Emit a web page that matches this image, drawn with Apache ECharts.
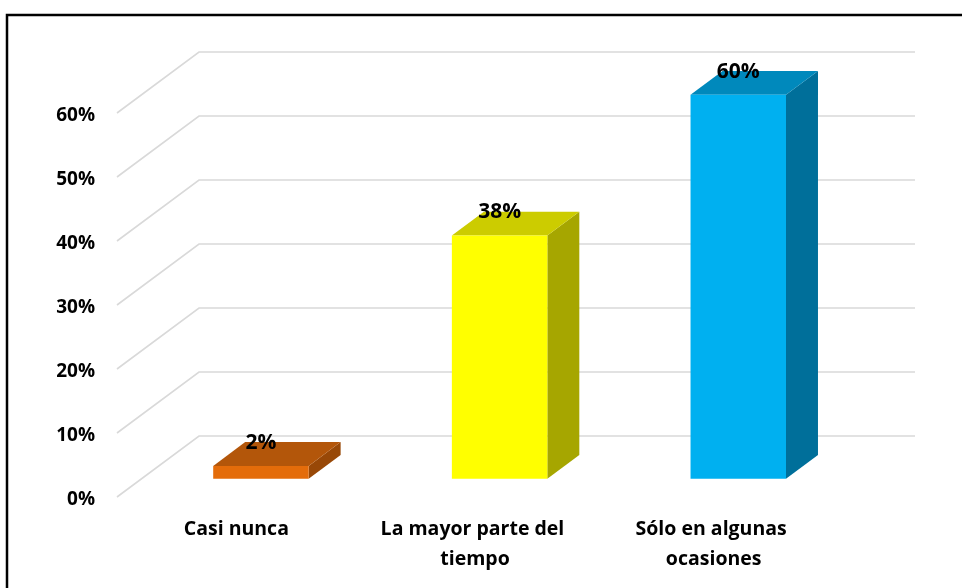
<!DOCTYPE html>
<html>
<head>
<meta charset="utf-8">
<script src="https://cdn.jsdelivr.net/npm/echarts@6/dist/echarts.min.js"></script>
<style>
  html, body { margin: 0; padding: 0; background: #fff; }
  #chart { width: 962px; height: 588px; }
</style>
</head>
<body>
<div id="chart"></div>
<script>
// Response categories and their shares (percent)
const categories = ['Casi nunca', 'La mayor parte del tiempo', 'Sólo en algunas ocasiones'];
const values = [2, 38, 60];
const valueLabels = ['2%', '38%', '60%'];
const yTicks = [0, 10, 20, 30, 40, 50, 60];

// Face colours per bar: front, top, side
const frontColors = ['#E46C0A', '#FFFF00', '#00B0F0'];
const topColors = ['#B3560A', '#CCCC00', '#0089BC'];
const sideColors = ['#984807', '#A6A600', '#006F9A'];

// Perspective depth of the floor/back wall, and the slab of depth a bar occupies
const DEPTH_X = 82, DEPTH_Y = -61;
const BAR_FRONT = 0.3, BAR_BACK = 0.69;

const chart = echarts.init(document.getElementById('chart'));

const font = '"Open Sans", "Noto Sans", sans-serif';

chart.setOption({
  animation: false,
  graphic: [{
    type: 'rect',
    shape: { x: 7, y: 15, width: 1000, height: 640 },
    style: { fill: 'none', stroke: '#000', lineWidth: 2.5 },
    silent: true
  }],
  grid: { left: 117, top: 113, width: 716, height: 384 },
  xAxis: {
    type: 'category',
    data: categories,
    axisLine: { show: false },
    axisTick: { show: false },
    splitLine: { show: false },
    axisLabel: {
      interval: 0,
      margin: 17,
      width: 215,
      overflow: 'break',
      lineHeight: 30,
      color: '#000',
      fontFamily: font,
      fontWeight: 'bold',
      fontSize: 19.5
    }
  },
  yAxis: {
    type: 'value',
    min: 0,
    max: 60,
    interval: 10,
    axisLine: { show: false },
    axisTick: { show: false },
    splitLine: { show: false },
    axisLabel: {
      margin: 22,
      verticalAlign: 'top',
      lineHeight: 6,
      formatter: '{value}%',
      color: '#000',
      fontFamily: font,
      fontWeight: 'bold',
      fontSize: 19
    }
  },
  series: [
    {
      // perspective gridlines: side wall diagonal plus back wall line
      type: 'custom',
      z: 1,
      silent: true,
      data: yTicks.map(v => [0, v]),
      renderItem: function (params, api) {
        const cs = params.coordSys;
        const y = api.coord([0, api.value(1)])[1];
        const x0 = cs.x;
        return {
          type: 'polyline',
          shape: {
            points: [
              [x0, y],
              [x0 + DEPTH_X, y + DEPTH_Y],
              [x0 + cs.width + DEPTH_X, y + DEPTH_Y]
            ]
          },
          style: { stroke: '#D9D9D9', lineWidth: 1.6, fill: 'none' }
        };
      }
    },
    {
      // 3D bars: front, top and right side faces plus value label
      type: 'custom',
      z: 2,
      data: values.map((v, i) => [i, v]),
      renderItem: function (params, api) {
        const i = params.dataIndex;
        const base = api.coord([api.value(0), 0]);
        const top = api.coord([api.value(0), api.value(1)]);
        const bw = api.size([1, 0])[0] * 0.4;
        const fx = BAR_FRONT * DEPTH_X, fy = BAR_FRONT * DEPTH_Y;
        const dx = (BAR_BACK - BAR_FRONT) * DEPTH_X, dy = (BAR_BACK - BAR_FRONT) * DEPTH_Y;
        const cx = base[0] + fx;
        const xl = cx - bw / 2, xr = cx + bw / 2;
        const by = base[1] + fy, ty = top[1] + fy;
        return {
          type: 'group',
          children: [
            {
              type: 'polygon',
              shape: { points: [[xr, ty], [xr + dx, ty + dy], [xr + dx, by + dy], [xr, by]] },
              style: { fill: sideColors[i] }
            },
            {
              type: 'polygon',
              shape: { points: [[xl, ty], [xr, ty], [xr + dx, ty + dy], [xl + dx, ty + dy]] },
              style: { fill: topColors[i] }
            },
            {
              type: 'rect',
              shape: { x: xl, y: ty, width: bw, height: by - ty },
              style: { fill: frontColors[i] }
            },
            {
              type: 'text',
              x: cx,
              y: ty - 23,
              style: {
                text: valueLabels[i],
                fill: '#000',
                font: 'bold 21px ' + font,
                align: 'center',
                verticalAlign: 'middle'
              }
            }
          ]
        };
      }
    }
  ]
});
</script>
</body>
</html>
